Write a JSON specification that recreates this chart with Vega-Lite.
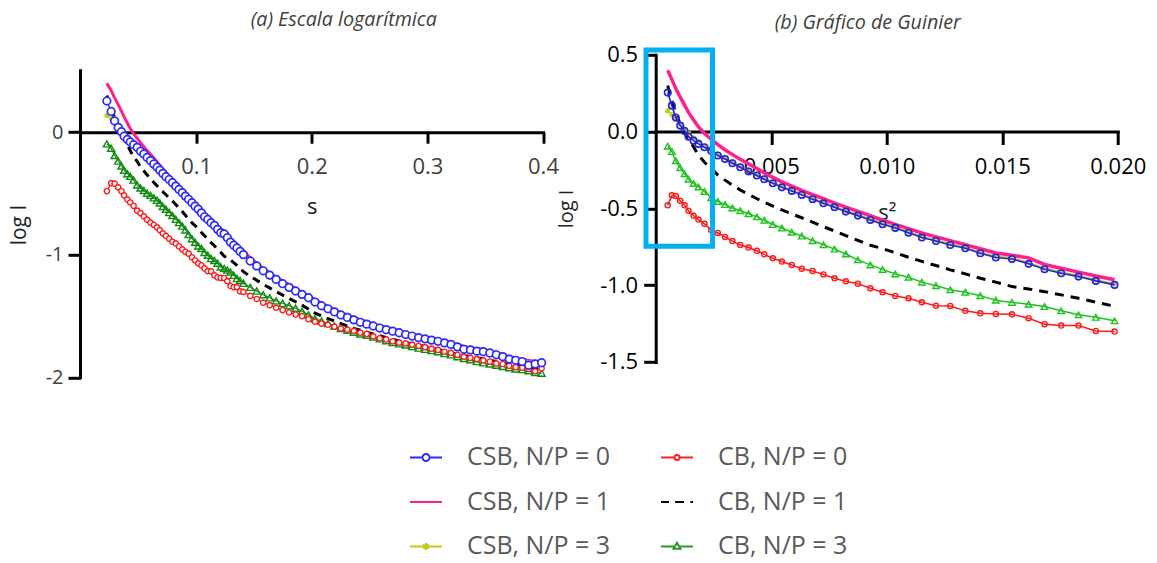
{
"$schema":"https://vega.github.io/schema/vega-lite/v6.json",
"background":"white",
"padding":{"left":8.5,"top":8.8,"right":0,"bottom":2},
"spacing":-2.8,
"config":{"view":{"stroke":null},"axis":{"domainColor":"black","domainWidth":3,"domainCap":"square","tickColor":"black","tickWidth":3,"grid":false,"labelFont":"Open Sans","titleFont":"Open Sans","titleFontWeight":"normal","labelFlush":false,"labelOverlap":false}},
"datasets":{
"CSB0":[{"s":0.0228,"q":0.00052,"v":0.254},{"s":0.0265,"q":0.0007,"v":0.169},{"s":0.0295,"q":0.00087,"v":0.091},{"s":0.0326,"q":0.00106,"v":0.039},{"s":0.0354,"q":0.00125,"v":0.004},{"s":0.0377,"q":0.00142,"v":-0.033},{"s":0.0405,"q":0.00164,"v":-0.059},{"s":0.043,"q":0.00185,"v":-0.08},{"s":0.0459,"q":0.00211,"v":-0.102},{"s":0.049,"q":0.0024,"v":-0.124},{"s":0.0519,"q":0.00269,"v":-0.156},{"s":0.0548,"q":0.003,"v":-0.178},{"s":0.0576,"q":0.00332,"v":-0.206},{"s":0.0605,"q":0.00366,"v":-0.232},{"s":0.0634,"q":0.00402,"v":-0.26},{"s":0.0662,"q":0.00438,"v":-0.286},{"s":0.0686,"q":0.0047,"v":-0.31},{"s":0.0712,"q":0.00507,"v":-0.336},{"s":0.0739,"q":0.00546,"v":-0.363},{"s":0.0767,"q":0.00589,"v":-0.386},{"s":0.0795,"q":0.00632,"v":-0.412},{"s":0.0824,"q":0.00679,"v":-0.44},{"s":0.0852,"q":0.00726,"v":-0.467},{"s":0.088,"q":0.00774,"v":-0.493},{"s":0.0907,"q":0.00823,"v":-0.521},{"s":0.0935,"q":0.00875,"v":-0.547},{"s":0.0964,"q":0.00929,"v":-0.575},{"s":0.0991,"q":0.00982,"v":-0.603},{"s":0.1018,"q":0.01037,"v":-0.627},{"s":0.1046,"q":0.01094,"v":-0.658},{"s":0.1073,"q":0.01152,"v":-0.69},{"s":0.1101,"q":0.01213,"v":-0.712},{"s":0.1129,"q":0.01275,"v":-0.738},{"s":0.1158,"q":0.0134,"v":-0.76},{"s":0.1185,"q":0.01405,"v":-0.792},{"s":0.1213,"q":0.01472,"v":-0.82},{"s":0.1242,"q":0.01542,"v":-0.829},{"s":0.127,"q":0.01614,"v":-0.861},{"s":0.1297,"q":0.01683,"v":-0.896},{"s":0.1325,"q":0.01755,"v":-0.922},{"s":0.1353,"q":0.0183,"v":-0.944},{"s":0.138,"q":0.01905,"v":-0.972},{"s":0.1409,"q":0.01986,"v":-0.998},
{"s":0.1468,"v":-1.05},{"s":0.1524,"v":-1.09},{"s":0.158,"v":-1.13},{"s":0.1636,"v":-1.165},{"s":0.1692,"v":-1.2},{"s":0.1748,"v":-1.235},{"s":0.1804,"v":-1.265},{"s":0.186,"v":-1.295},{"s":0.1916,"v":-1.322},{"s":0.1972,"v":-1.35},{"s":0.2028,"v":-1.385},{"s":0.2084,"v":-1.415},{"s":0.214,"v":-1.44},{"s":0.2196,"v":-1.465},{"s":0.2252,"v":-1.49},{"s":0.2308,"v":-1.51},{"s":0.2364,"v":-1.53},{"s":0.242,"v":-1.55},{"s":0.2476,"v":-1.565},{"s":0.2532,"v":-1.58},{"s":0.2588,"v":-1.597},{"s":0.2644,"v":-1.61},{"s":0.27,"v":-1.622},{"s":0.2756,"v":-1.635},{"s":0.2812,"v":-1.65},{"s":0.2868,"v":-1.662},{"s":0.2924,"v":-1.675},{"s":0.298,"v":-1.685},{"s":0.3036,"v":-1.695},{"s":0.3092,"v":-1.705},{"s":0.3148,"v":-1.718},{"s":0.3204,"v":-1.73},{"s":0.326,"v":-1.75},{"s":0.3316,"v":-1.77},{"s":0.3372,"v":-1.775},{"s":0.3428,"v":-1.785},{"s":0.3484,"v":-1.79},{"s":0.354,"v":-1.8},{"s":0.3596,"v":-1.815},{"s":0.3652,"v":-1.83},{"s":0.3708,"v":-1.85},{"s":0.3764,"v":-1.86},{"s":0.382,"v":-1.87},{"s":0.3876,"v":-1.9},{"s":0.3932,"v":-1.89},{"s":0.3988,"v":-1.88}],
"CSB1":[{"s":0.0228,"q":0.00052,"v":0.40},{"s":0.0265,"q":0.0007,"v":0.34},{"s":0.0295,"q":0.00087,"v":0.28},{"s":0.0326,"q":0.00106,"v":0.225},{"s":0.0354,"q":0.00125,"v":0.172},{"s":0.0377,"q":0.00142,"v":0.125},{"s":0.0405,"q":0.00164,"v":0.075},{"s":0.043,"q":0.00185,"v":0.03},{"s":0.0459,"q":0.00211,"v":-0.012},{"s":0.049,"q":0.0024,"v":-0.05},{"s":0.0519,"q":0.00269,"v":-0.085},{"s":0.0548,"q":0.003,"v":-0.118},{"s":0.0576,"q":0.00332,"v":-0.15},{"s":0.0605,"q":0.00366,"v":-0.18},{"s":0.0634,"q":0.00402,"v":-0.21},{"s":0.0662,"q":0.00438,"v":-0.24},{"s":0.0686,"q":0.0047,"v":-0.27},{"s":0.0712,"q":0.00507,"v":-0.298},{"s":0.0739,"q":0.00546,"v":-0.327},{"s":0.0767,"q":0.00589,"v":-0.355},{"s":0.0795,"q":0.00632,"v":-0.383},{"s":0.0824,"q":0.00679,"v":-0.41},{"s":0.0852,"q":0.00726,"v":-0.437},{"s":0.088,"q":0.00774,"v":-0.465},{"s":0.0907,"q":0.00823,"v":-0.492},{"s":0.0935,"q":0.00875,"v":-0.52},{"s":0.0964,"q":0.00929,"v":-0.548},{"s":0.0991,"q":0.00982,"v":-0.577},{"s":0.1018,"q":0.01037,"v":-0.604},{"s":0.1046,"q":0.01094,"v":-0.632},{"s":0.1073,"q":0.01152,"v":-0.66},{"s":0.1101,"q":0.01213,"v":-0.685},{"s":0.1129,"q":0.01275,"v":-0.71},{"s":0.1158,"q":0.0134,"v":-0.737},{"s":0.1185,"q":0.01405,"v":-0.763},{"s":0.1213,"q":0.01472,"v":-0.79},{"s":0.1242,"q":0.01542,"v":-0.805},{"s":0.127,"q":0.01614,"v":-0.822},{"s":0.1297,"q":0.01683,"v":-0.865},{"s":0.1325,"q":0.01755,"v":-0.89},{"s":0.1353,"q":0.0183,"v":-0.915},{"s":0.138,"q":0.01905,"v":-0.94},{"s":0.1409,"q":0.01986,"v":-0.965},
{"s":0.1468,"v":-1.025},{"s":0.158,"v":-1.11},{"s":0.1692,"v":-1.18},{"s":0.1804,"v":-1.245},{"s":0.1916,"v":-1.305},{"s":0.2028,"v":-1.365},{"s":0.214,"v":-1.42},{"s":0.2252,"v":-1.47},{"s":0.2364,"v":-1.51},{"s":0.2476,"v":-1.545},{"s":0.2588,"v":-1.58},{"s":0.27,"v":-1.605},{"s":0.2812,"v":-1.635},{"s":0.2924,"v":-1.66},{"s":0.3036,"v":-1.68},{"s":0.3148,"v":-1.7},{"s":0.326,"v":-1.73},{"s":0.3372,"v":-1.76},{"s":0.3484,"v":-1.77},{"s":0.3596,"v":-1.795},{"s":0.3708,"v":-1.83},{"s":0.382,"v":-1.85},{"s":0.3932,"v":-1.87},{"s":0.3988,"v":-1.865}],
"CSB3":[{"s":0.0228,"q":0.00052,"v":0.135},{"s":0.0265,"q":0.0007,"v":0.11},{"s":0.0295,"q":0.00087,"v":0.08},{"s":0.0326,"q":0.00106,"v":0.05},{"s":0.0354,"q":0.00125,"v":0.02},{"s":0.0377,"q":0.00142,"v":-0.01},{"s":0.0405,"q":0.00164,"v":-0.04},{"s":0.043,"q":0.00185,"v":-0.065},{"s":0.0459,"q":0.00211,"v":-0.094},{"s":0.049,"q":0.0024,"v":-0.116},{"s":0.0519,"q":0.00269,"v":-0.148},{"s":0.0548,"q":0.003,"v":-0.17},{"s":0.0576,"q":0.00332,"v":-0.198},{"s":0.0605,"q":0.00366,"v":-0.224},{"s":0.0634,"q":0.00402,"v":-0.252},{"s":0.0662,"q":0.00438,"v":-0.278},{"s":0.0686,"q":0.0047,"v":-0.302},{"s":0.0712,"q":0.00507,"v":-0.328},{"s":0.0739,"q":0.00546,"v":-0.355},{"s":0.0767,"q":0.00589,"v":-0.379},{"s":0.0795,"q":0.00632,"v":-0.405},{"s":0.0824,"q":0.00679,"v":-0.432},{"s":0.0852,"q":0.00726,"v":-0.46},{"s":0.088,"q":0.00774,"v":-0.486},{"s":0.0907,"q":0.00823,"v":-0.513},{"s":0.0935,"q":0.00875,"v":-0.54},{"s":0.0964,"q":0.00929,"v":-0.568},{"s":0.0991,"q":0.00982,"v":-0.595},{"s":0.1018,"q":0.01037,"v":-0.62},{"s":0.1046,"q":0.01094,"v":-0.65},{"s":0.1073,"q":0.01152,"v":-0.682},{"s":0.1101,"q":0.01213,"v":-0.705},{"s":0.1129,"q":0.01275,"v":-0.73},{"s":0.1158,"q":0.0134,"v":-0.752},{"s":0.1185,"q":0.01405,"v":-0.785},{"s":0.1213,"q":0.01472,"v":-0.812},{"s":0.1242,"q":0.01542,"v":-0.82},{"s":0.127,"q":0.01614,"v":-0.853},{"s":0.1297,"q":0.01683,"v":-0.888},{"s":0.1325,"q":0.01755,"v":-0.914},{"s":0.1353,"q":0.0183,"v":-0.937},{"s":0.138,"q":0.01905,"v":-0.964},{"s":0.1409,"q":0.01986,"v":-0.99},
{"s":0.1468,"v":-1.035},{"s":0.158,"v":-1.12},{"s":0.1692,"v":-1.19},{"s":0.1804,"v":-1.255},{"s":0.1916,"v":-1.31},{"s":0.2028,"v":-1.372},{"s":0.214,"v":-1.43},{"s":0.2252,"v":-1.478},{"s":0.2364,"v":-1.518},{"s":0.2476,"v":-1.555},{"s":0.2588,"v":-1.585},{"s":0.27,"v":-1.61},{"s":0.2812,"v":-1.638},{"s":0.2924,"v":-1.662},{"s":0.3036,"v":-1.683},{"s":0.3148,"v":-1.705},{"s":0.326,"v":-1.738},{"s":0.3372,"v":-1.762},{"s":0.3484,"v":-1.778},{"s":0.3596,"v":-1.8},{"s":0.3708,"v":-1.835},{"s":0.382,"v":-1.855},{"s":0.3932,"v":-1.875},{"s":0.3988,"v":-1.87}],
"CB0":[{"s":0.0228,"q":0.00052,"v":-0.48},{"s":0.0265,"q":0.0007,"v":-0.415},{"s":0.0295,"q":0.00087,"v":-0.42},{"s":0.0326,"q":0.00106,"v":-0.45},{"s":0.0354,"q":0.00125,"v":-0.48},{"s":0.0377,"q":0.00142,"v":-0.515},{"s":0.0405,"q":0.00164,"v":-0.548},{"s":0.043,"q":0.00185,"v":-0.573},{"s":0.0459,"q":0.00211,"v":-0.6},{"s":0.049,"q":0.0024,"v":-0.64},{"s":0.0519,"q":0.00269,"v":-0.66},{"s":0.0548,"q":0.003,"v":-0.686},{"s":0.0576,"q":0.00332,"v":-0.713},{"s":0.0605,"q":0.00366,"v":-0.738},{"s":0.0634,"q":0.00402,"v":-0.755},{"s":0.0662,"q":0.00438,"v":-0.776},{"s":0.0686,"q":0.0047,"v":-0.799},{"s":0.0712,"q":0.00507,"v":-0.825},{"s":0.0739,"q":0.00546,"v":-0.846},{"s":0.0767,"q":0.00589,"v":-0.868},{"s":0.0795,"q":0.00632,"v":-0.893},{"s":0.0824,"q":0.00679,"v":-0.907},{"s":0.0852,"q":0.00726,"v":-0.93},{"s":0.088,"q":0.00774,"v":-0.955},{"s":0.0907,"q":0.00823,"v":-0.975},{"s":0.0935,"q":0.00875,"v":-0.99},{"s":0.0964,"q":0.00929,"v":-1.02},{"s":0.0991,"q":0.00982,"v":-1.046},{"s":0.1018,"q":0.01037,"v":-1.07},{"s":0.1046,"q":0.01094,"v":-1.085},{"s":0.1073,"q":0.01152,"v":-1.111},{"s":0.1101,"q":0.01213,"v":-1.133},{"s":0.1129,"q":0.01275,"v":-1.135},{"s":0.1158,"q":0.0134,"v":-1.167},{"s":0.1185,"q":0.01405,"v":-1.183},{"s":0.1213,"q":0.01472,"v":-1.187},{"s":0.1242,"q":0.01542,"v":-1.189},{"s":0.127,"q":0.01614,"v":-1.215},{"s":0.1297,"q":0.01683,"v":-1.254},{"s":0.1325,"q":0.01755,"v":-1.263},{"s":0.1353,"q":0.0183,"v":-1.263},{"s":0.138,"q":0.01905,"v":-1.298},{"s":0.1409,"q":0.01986,"v":-1.302},
{"s":0.1468,"v":-1.335},{"s":0.1524,"v":-1.36},{"s":0.158,"v":-1.39},{"s":0.1636,"v":-1.41},{"s":0.1692,"v":-1.43},{"s":0.1748,"v":-1.45},{"s":0.1804,"v":-1.47},{"s":0.186,"v":-1.485},{"s":0.1916,"v":-1.5},{"s":0.1972,"v":-1.525},{"s":0.2028,"v":-1.545},{"s":0.2084,"v":-1.56},{"s":0.214,"v":-1.57},{"s":0.2196,"v":-1.585},{"s":0.2252,"v":-1.6},{"s":0.2308,"v":-1.61},{"s":0.2364,"v":-1.62},{"s":0.242,"v":-1.635},{"s":0.2476,"v":-1.645},{"s":0.2532,"v":-1.665},{"s":0.2588,"v":-1.68},{"s":0.2644,"v":-1.69},{"s":0.27,"v":-1.705},{"s":0.2756,"v":-1.715},{"s":0.2812,"v":-1.722},{"s":0.2868,"v":-1.732},{"s":0.2924,"v":-1.742},{"s":0.298,"v":-1.752},{"s":0.3036,"v":-1.765},{"s":0.3092,"v":-1.775},{"s":0.3148,"v":-1.79},{"s":0.3204,"v":-1.8},{"s":0.326,"v":-1.815},{"s":0.3316,"v":-1.83},{"s":0.3372,"v":-1.84},{"s":0.3428,"v":-1.85},{"s":0.3484,"v":-1.86},{"s":0.354,"v":-1.87},{"s":0.3596,"v":-1.885},{"s":0.3652,"v":-1.89},{"s":0.3708,"v":-1.905},{"s":0.3764,"v":-1.915},{"s":0.382,"v":-1.92},{"s":0.3876,"v":-1.93},{"s":0.3932,"v":-1.95},{"s":0.3988,"v":-1.925}],
"CB1":[{"s":0.0228,"q":0.00052,"v":0.30},{"s":0.0265,"q":0.0007,"v":0.2},{"s":0.0295,"q":0.00087,"v":0.12},{"s":0.0326,"q":0.00106,"v":0.05},{"s":0.0354,"q":0.00125,"v":-0.01},{"s":0.0377,"q":0.00142,"v":-0.044},{"s":0.0405,"q":0.00164,"v":-0.1},{"s":0.043,"q":0.00185,"v":-0.152},{"s":0.0459,"q":0.00211,"v":-0.2},{"s":0.049,"q":0.0024,"v":-0.238},{"s":0.0519,"q":0.00269,"v":-0.283},{"s":0.0548,"q":0.003,"v":-0.316},{"s":0.0576,"q":0.00332,"v":-0.348},{"s":0.0605,"q":0.00366,"v":-0.38},{"s":0.0634,"q":0.00402,"v":-0.41},{"s":0.0662,"q":0.00438,"v":-0.437},{"s":0.0686,"q":0.0047,"v":-0.46},{"s":0.0712,"q":0.00507,"v":-0.485},{"s":0.0739,"q":0.00546,"v":-0.51},{"s":0.0767,"q":0.00589,"v":-0.536},{"s":0.0795,"q":0.00632,"v":-0.561},{"s":0.0824,"q":0.00679,"v":-0.59},{"s":0.0852,"q":0.00726,"v":-0.619},{"s":0.088,"q":0.00774,"v":-0.647},{"s":0.0907,"q":0.00823,"v":-0.677},{"s":0.0935,"q":0.00875,"v":-0.708},{"s":0.0964,"q":0.00929,"v":-0.74},{"s":0.0991,"q":0.00982,"v":-0.762},{"s":0.1018,"q":0.01037,"v":-0.788},{"s":0.1046,"q":0.01094,"v":-0.818},{"s":0.1073,"q":0.01152,"v":-0.845},{"s":0.1101,"q":0.01213,"v":-0.872},{"s":0.1129,"q":0.01275,"v":-0.9},{"s":0.1158,"q":0.0134,"v":-0.926},{"s":0.1185,"q":0.01405,"v":-0.955},{"s":0.1213,"q":0.01472,"v":-0.98},{"s":0.1242,"q":0.01542,"v":-1.009},{"s":0.127,"q":0.01614,"v":-1.025},{"s":0.1297,"q":0.01683,"v":-1.042},{"s":0.1325,"q":0.01755,"v":-1.063},{"s":0.1353,"q":0.0183,"v":-1.085},{"s":0.138,"q":0.01905,"v":-1.11},{"s":0.1409,"q":0.01986,"v":-1.137},
{"s":0.1468,"v":-1.175},{"s":0.158,"v":-1.24},{"s":0.1692,"v":-1.3},{"s":0.1804,"v":-1.355},{"s":0.1916,"v":-1.41},{"s":0.2028,"v":-1.475},{"s":0.214,"v":-1.52},{"s":0.2252,"v":-1.56},{"s":0.2364,"v":-1.6},{"s":0.2476,"v":-1.63},{"s":0.2588,"v":-1.66},{"s":0.27,"v":-1.69},{"s":0.2812,"v":-1.715},{"s":0.2924,"v":-1.735},{"s":0.3036,"v":-1.76},{"s":0.3148,"v":-1.785},{"s":0.326,"v":-1.81},{"s":0.3372,"v":-1.83},{"s":0.3484,"v":-1.85},{"s":0.3596,"v":-1.87},{"s":0.3708,"v":-1.89},{"s":0.382,"v":-1.905},{"s":0.3932,"v":-1.925},{"s":0.3988,"v":-1.93}],
"CB3":[{"s":0.0228,"q":0.00052,"v":-0.095},{"s":0.0265,"q":0.0007,"v":-0.13},{"s":0.0295,"q":0.00087,"v":-0.19},{"s":0.0326,"q":0.00106,"v":-0.235},{"s":0.0354,"q":0.00125,"v":-0.275},{"s":0.0377,"q":0.00142,"v":-0.31},{"s":0.0405,"q":0.00164,"v":-0.338},{"s":0.043,"q":0.00185,"v":-0.36},{"s":0.0459,"q":0.00211,"v":-0.39},{"s":0.049,"q":0.0024,"v":-0.43},{"s":0.0519,"q":0.00269,"v":-0.455},{"s":0.0548,"q":0.003,"v":-0.475},{"s":0.0576,"q":0.00332,"v":-0.497},{"s":0.0605,"q":0.00366,"v":-0.515},{"s":0.0634,"q":0.00402,"v":-0.535},{"s":0.0662,"q":0.00438,"v":-0.555},{"s":0.0686,"q":0.0047,"v":-0.577},{"s":0.0712,"q":0.00507,"v":-0.605},{"s":0.0739,"q":0.00546,"v":-0.628},{"s":0.0767,"q":0.00589,"v":-0.655},{"s":0.0795,"q":0.00632,"v":-0.68},{"s":0.0824,"q":0.00679,"v":-0.71},{"s":0.0852,"q":0.00726,"v":-0.737},{"s":0.088,"q":0.00774,"v":-0.765},{"s":0.0907,"q":0.00823,"v":-0.797},{"s":0.0935,"q":0.00875,"v":-0.835},{"s":0.0964,"q":0.00929,"v":-0.868},{"s":0.0991,"q":0.00982,"v":-0.897},{"s":0.1018,"q":0.01037,"v":-0.927},{"s":0.1046,"q":0.01094,"v":-0.948},{"s":0.1073,"q":0.01152,"v":-0.98},{"s":0.1101,"q":0.01213,"v":-1.003},{"s":0.1129,"q":0.01275,"v":-1.03},{"s":0.1158,"q":0.0134,"v":-1.046},{"s":0.1185,"q":0.01405,"v":-1.068},{"s":0.1213,"q":0.01472,"v":-1.098},{"s":0.1242,"q":0.01542,"v":-1.112},{"s":0.127,"q":0.01614,"v":-1.124},{"s":0.1297,"q":0.01683,"v":-1.139},{"s":0.1325,"q":0.01755,"v":-1.167},{"s":0.1353,"q":0.0183,"v":-1.193},{"s":0.138,"q":0.01905,"v":-1.209},{"s":0.1409,"q":0.01986,"v":-1.232},
{"s":0.1468,"v":-1.265},{"s":0.1524,"v":-1.295},{"s":0.158,"v":-1.325},{"s":0.1636,"v":-1.35},{"s":0.1692,"v":-1.375},{"s":0.1748,"v":-1.395},{"s":0.1804,"v":-1.415},{"s":0.186,"v":-1.435},{"s":0.1916,"v":-1.46},{"s":0.1972,"v":-1.49},{"s":0.2028,"v":-1.52},{"s":0.2084,"v":-1.54},{"s":0.214,"v":-1.56},{"s":0.2196,"v":-1.58},{"s":0.2252,"v":-1.6},{"s":0.2308,"v":-1.615},{"s":0.2364,"v":-1.63},{"s":0.242,"v":-1.645},{"s":0.2476,"v":-1.655},{"s":0.2532,"v":-1.67},{"s":0.2588,"v":-1.685},{"s":0.2644,"v":-1.7},{"s":0.27,"v":-1.715},{"s":0.2756,"v":-1.725},{"s":0.2812,"v":-1.735},{"s":0.2868,"v":-1.748},{"s":0.2924,"v":-1.76},{"s":0.298,"v":-1.77},{"s":0.3036,"v":-1.78},{"s":0.3092,"v":-1.79},{"s":0.3148,"v":-1.805},{"s":0.3204,"v":-1.815},{"s":0.326,"v":-1.83},{"s":0.3316,"v":-1.845},{"s":0.3372,"v":-1.855},{"s":0.3428,"v":-1.87},{"s":0.3484,"v":-1.88},{"s":0.354,"v":-1.89},{"s":0.3596,"v":-1.9},{"s":0.3652,"v":-1.91},{"s":0.3708,"v":-1.92},{"s":0.3764,"v":-1.93},{"s":0.382,"v":-1.935},{"s":0.3876,"v":-1.945},{"s":0.3932,"v":-1.96},{"s":0.3988,"v":-1.965}],
"axisA":[{"s":0,"v":-2,"v2":0.5}],
"box":[{"q":-0.00042,"q2":0.00246,"v":0.532,"v2":-0.747}],
"keys":[{"k":"CSB0"},{"k":"CSB1"},{"k":"CSB3"},{"k":"CB0"},{"k":"CB1"},{"k":"CB3"}]
},
"hconcat":[
{
"width":462.5,"height":322.7,
"title":{"text":"(a) Escala logarítmica","font":"Open Sans","fontStyle":"italic","fontWeight":"normal","fontSize":19.7,"color":"#404040","frame":"group","anchor":"middle","dx":32,"offset":9.4,"baseline":"alphabetic"},
"encoding":{
"x":{"field":"s","type":"quantitative","scale":{"domain":[0,0.4],"nice":false,"zero":false},"axis":{"values":[0.1,0.2,0.3,0.4],"format":".1f","offset":-245.3,"tickSize":11,"labelFontSize":22,"labelColor":"#404040","labelPadding":30.6,"labelBaseline":"alphabetic","title":"s","titleFontSize":22,"titleColor":"#222222","titleBaseline":"alphabetic","titleY":81}},
"y":{"field":"v","type":"quantitative","scale":{"domain":[-2,0.631],"nice":false,"zero":false},"axis":{"values":[0,-1,-2],"domain":false,"tickSize":12.5,"labelFontSize":20,"labelColor":"#404040","labelPadding":5,"labelExpr":"replace(datum.label,'−','-')","title":"log I","titleFontSize":21,"titleColor":"#222222","titleX":-55,"titleY":169.7,"titleBaseline":"alphabetic"}}
},
"layer":[
{"data":{"name":"axisA"},"mark":{"type":"rule","color":"black","strokeWidth":3,"strokeCap":"square"},"encoding":{"y2":{"field":"v2"}}},
{"data":{"name":"CB1"},"mark":{"type":"line","color":"black","strokeWidth":3,"strokeDash":[8,6]}},
{"data":{"name":"CB3"},"mark":{"type":"line","color":"#138a13","strokeWidth":1.2}},
{"data":{"name":"CB3"},"mark":{"type":"point","shape":"triangle-up","size":50,"stroke":"#138a13","strokeWidth":1.4,"filled":false,"opacity":1}},
{"data":{"name":"CB0"},"mark":{"type":"line","color":"#ff1a1a","strokeWidth":1.2}},
{"data":{"name":"CB0"},"mark":{"type":"point","shape":"circle","size":28,"fill":"white","stroke":"#ff1a1a","strokeWidth":1.4,"opacity":1}},
{"data":{"name":"CSB1"},"mark":{"type":"line","color":"#ff1f8f","strokeWidth":3}},
{"data":{"name":"CSB3"},"mark":{"type":"line","color":"#c8c814","strokeWidth":1.3}},
{"data":{"name":"CSB3"},"mark":{"type":"point","shape":"M0,-1L0,1M-0.87,-0.5L0.87,0.5M-0.87,0.5L0.87,-0.5","size":30,"stroke":"#c8c814","strokeWidth":1.5,"filled":false,"opacity":1}},
{"data":{"name":"CSB0"},"mark":{"type":"line","color":"#2b2bff","strokeWidth":1.3}},
{"data":{"name":"CSB0"},"mark":{"type":"point","shape":"circle","size":58,"fill":"white","stroke":"#2b2bff","strokeWidth":1.7,"opacity":1}}
]
},
{
"width":462.1,"height":307.2,
"title":{"text":"(b) Gráfico de Guinier","font":"Open Sans","fontStyle":"italic","fontWeight":"normal","fontSize":19.7,"color":"#404040","frame":"group","anchor":"middle","dx":-19,"offset":-5.3,"baseline":"alphabetic"},
"encoding":{
"x":{"field":"q","type":"quantitative","scale":{"domain":[0,0.02],"nice":false,"zero":false},"axis":{"values":[0.005,0.01,0.015,0.02],"format":".3f","offset":-230.5,"tickSize":13,"labelFontSize":22,"labelColor":"black","labelPadding":28.7,"labelBaseline":"alphabetic","title":"s²","titleFontSize":22,"titleColor":"#222222","titleBaseline":"alphabetic","titleY":88}},
"y":{"field":"v","type":"quantitative","scale":{"domain":[-1.5,0.5],"nice":false,"zero":false},"axis":{"values":[0.5,0,-0.5,-1,-1.5],"tickSize":12,"labelFontSize":22,"labelColor":"black","labelPadding":6,"labelExpr":"replace(format(datum.value,'.1f'),'−','-')","title":"log I","titleFontSize":20,"titleColor":"#222222","titleX":-83.7,"titleY":153.6,"titleBaseline":"alphabetic"}}
},
"layer":[
{"data":{"name":"CB1"},"transform":[{"filter":"isValid(datum.q)"}],"mark":{"type":"line","color":"black","strokeWidth":3,"strokeDash":[9,7]}},
{"data":{"name":"CB3"},"transform":[{"filter":"isValid(datum.q)"}],"mark":{"type":"line","color":"#1ec41e","strokeWidth":1.5}},
{"data":{"name":"CB3"},"transform":[{"filter":"isValid(datum.q)"}],"mark":{"type":"point","shape":"triangle-up","size":42,"stroke":"#1ec41e","strokeWidth":1.4,"filled":false,"opacity":1}},
{"data":{"name":"CB0"},"transform":[{"filter":"isValid(datum.q)"}],"mark":{"type":"line","color":"#ff1a1a","strokeWidth":1.5}},
{"data":{"name":"CB0"},"transform":[{"filter":"isValid(datum.q)"}],"mark":{"type":"point","shape":"circle","size":26,"stroke":"#ff1a1a","strokeWidth":1.4,"filled":false,"opacity":1}},
{"data":{"name":"CSB1"},"transform":[{"filter":"isValid(datum.q)"}],"mark":{"type":"line","color":"#ff1f8f","strokeWidth":3.5}},
{"data":{"name":"CSB3"},"transform":[{"filter":"isValid(datum.q)"}],"mark":{"type":"line","color":"#c8c814","strokeWidth":1.5}},
{"data":{"name":"CSB3"},"transform":[{"filter":"isValid(datum.q)"}],"mark":{"type":"point","shape":"M0,-1L0,1M-0.87,-0.5L0.87,0.5M-0.87,0.5L0.87,-0.5","size":30,"stroke":"#c8c814","strokeWidth":1.5,"filled":false,"opacity":1}},
{"data":{"name":"CSB0"},"transform":[{"filter":"isValid(datum.q)"}],"mark":{"type":"line","color":"#2323e0","strokeWidth":1.6}},
{"data":{"name":"CSB0"},"transform":[{"filter":"isValid(datum.q)"}],"mark":{"type":"point","shape":"circle","size":42,"stroke":"#2323e0","strokeWidth":1.6,"filled":false,"opacity":1}},
{"data":{"name":"box"},"mark":{"type":"rect","fill":"transparent","stroke":"#00b0f0","strokeWidth":5},"encoding":{"x2":{"field":"q2"},"y2":{"field":"v2"}}},
{"data":{"name":"keys"},"transform":[{"filter":"false"}],"mark":{"type":"point","filled":false,"opacity":1},
 "encoding":{
 "color":{"field":"k","type":"nominal","scale":{"domain":["CSB0","CSB1","CSB3","CB0","CB1","CB3"],"range":["#2b2bff","#ff1f8f","#c8c814","#ff2020","#000000","#2a9a2a"]},
  "legend":{"orient":"none","legendX":328.5,"legendY":385.7,"columns":2,"title":null,"symbolSize":1024,"symbolStrokeWidth":2,"symbolOpacity":1,"labelFont":"Open Sans","labelFontSize":25,"labelColor":"#595959","labelOffset":24,"labelLimit":400,"rowPadding":14.5,"columnPadding":46,"padding":0,
   "labelExpr":"slice(datum.label,0,-1) + ', N/P = ' + slice(datum.label,-1)",
   "encode":{"symbols":{"update":{"fill":{"value":"white"},"strokeWidth":{"signal":"datum.value === 'CSB1' ? 4.5 : datum.value === 'CB1' ? 3.5 : 2"}}}}}},
 "shape":{"field":"k","type":"nominal","scale":{"domain":["CSB0","CSB1","CSB3","CB0","CB1","CB3"],"range":["M-1,0L-0.22,0M0.22,0L1,0M-0.22,0A0.22,0.22,0,1,1,0.22,0A0.22,0.22,0,1,1,-0.22,0Z","M-1,0L1,0","M-1,0L1,0M0,-0.22L0,0.22M-0.19,-0.11L0.19,0.11M-0.19,0.11L0.19,-0.11","M-1,0L-0.16,0M0.16,0L1,0M-0.16,0A0.16,0.16,0,1,1,0.16,0A0.16,0.16,0,1,1,-0.16,0Z","M-1,0L-0.5,0M-0.12,0L0.44,0M0.84,0L1,0","M-1,0L-0.2,0M0.2,0L1,0M0,-0.24L0.22,0.14L-0.22,0.14Z"]}}
 }}
]
}
]
}
